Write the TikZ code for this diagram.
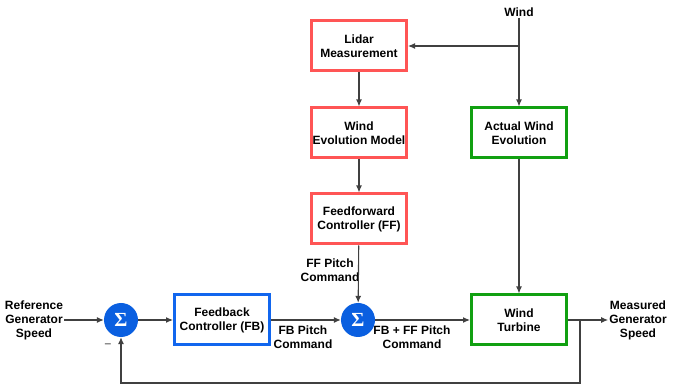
\documentclass[tikz,border=0pt]{standalone}
\usepackage{fontspec}
\setmainfont{Liberation Sans}
\newfontfamily\sigmafont{Liberation Serif}
\usetikzlibrary{arrows.meta}
\definecolor{ffred}{HTML}{FF5555}
\definecolor{fbblue}{HTML}{1166EE}
\definecolor{wtgreen}{HTML}{11A011}
\definecolor{sumblue}{HTML}{0A5FE0}
\begin{document}
\begin{tikzpicture}
[x=1pt, y=1pt, font=\fontsize{12}{14}\selectfont\bfseries, >={Latex[length=7pt,width=6pt]}]
\tikzstyle{block}=[rectangle, draw, line width=3pt, fill=white, minimum width=95pt, minimum height=50pt, align=center, inner sep=1pt]
\tikzstyle{sum}=[circle, fill=sumblue, text=white, minimum size=34pt, inner sep=0pt, font=\fontsize{20}{20}\selectfont\sigmafont\bfseries]
\tikzstyle{txt}=[align=center, inner sep=1pt]
\tikzstyle{line}=[line width=1.1pt, black!75]
\useasboundingbox (0,0) rectangle (673,-387);

\node[block, draw=ffred]   (lidar)   at (359,-46)  {Lidar\\Measurement};
\node[block, draw=ffred]   (evol)    at (359,-133) {Wind\\Evolution Model};
\node[block, draw=ffred]   (ffctrl)  at (359,-219) {Feedforward\\Controller (FF)};
\node[block, draw=wtgreen] (actual)  at (519,-133) {Actual Wind\\Evolution};
\node[block, draw=wtgreen] (turbine) at (519,-320) {Wind\\Turbine};
\node[block, draw=fbblue]  (fbctrl)  at (222,-320) {Feedback\\Controller (FB)};
\node[sum] (sum1) at (121,-320) {Σ};
\node[sum] (sum2) at (358,-320) {Σ};

\node[txt] (wind) at (519,-12)  {Wind};
\node[txt] (ref)  at (34,-320)  {Reference\\Generator\\Speed};
\node[txt] (meas) at (638,-320) {Measured\\Generator\\Speed};
\node[txt] (ffcmd)  at (330,-270) {FF Pitch\\Command};
\node[txt] (fbcmd)  at (303,-337) {FB Pitch\\Command};
\node[txt] (totcmd) at (412,-337) {FB + FF Pitch\\Command};
\node[txt, text=black!55] (minus) at (108,-346) {--};

\coordinate (split) at (wind.south |- lidar.east);
\coordinate (tap)   at (580,-320);
\coordinate (low)   at (580,-383);

\draw[line, ->] (wind.south) -- (actual.north);
\draw[line, ->] (split) -- (lidar.east);
\draw[line, ->] (lidar) -- (evol);
\draw[line, ->] (evol) -- (ffctrl);
\draw[line, ->] (ffctrl) -- (sum2);
\draw[line, ->] (actual) -- (turbine);
\draw[line, ->] (ref) -- (sum1);
\draw[line, ->] (sum1) -- (fbctrl);
\draw[line, ->] (fbctrl) -- (sum2);
\draw[line, ->] (sum2) -- (turbine);
\draw[line, ->] (turbine) -- (meas);
\draw[line, ->] (tap) -- (low) -| (sum1.south);
\end{tikzpicture}
\end{document}
